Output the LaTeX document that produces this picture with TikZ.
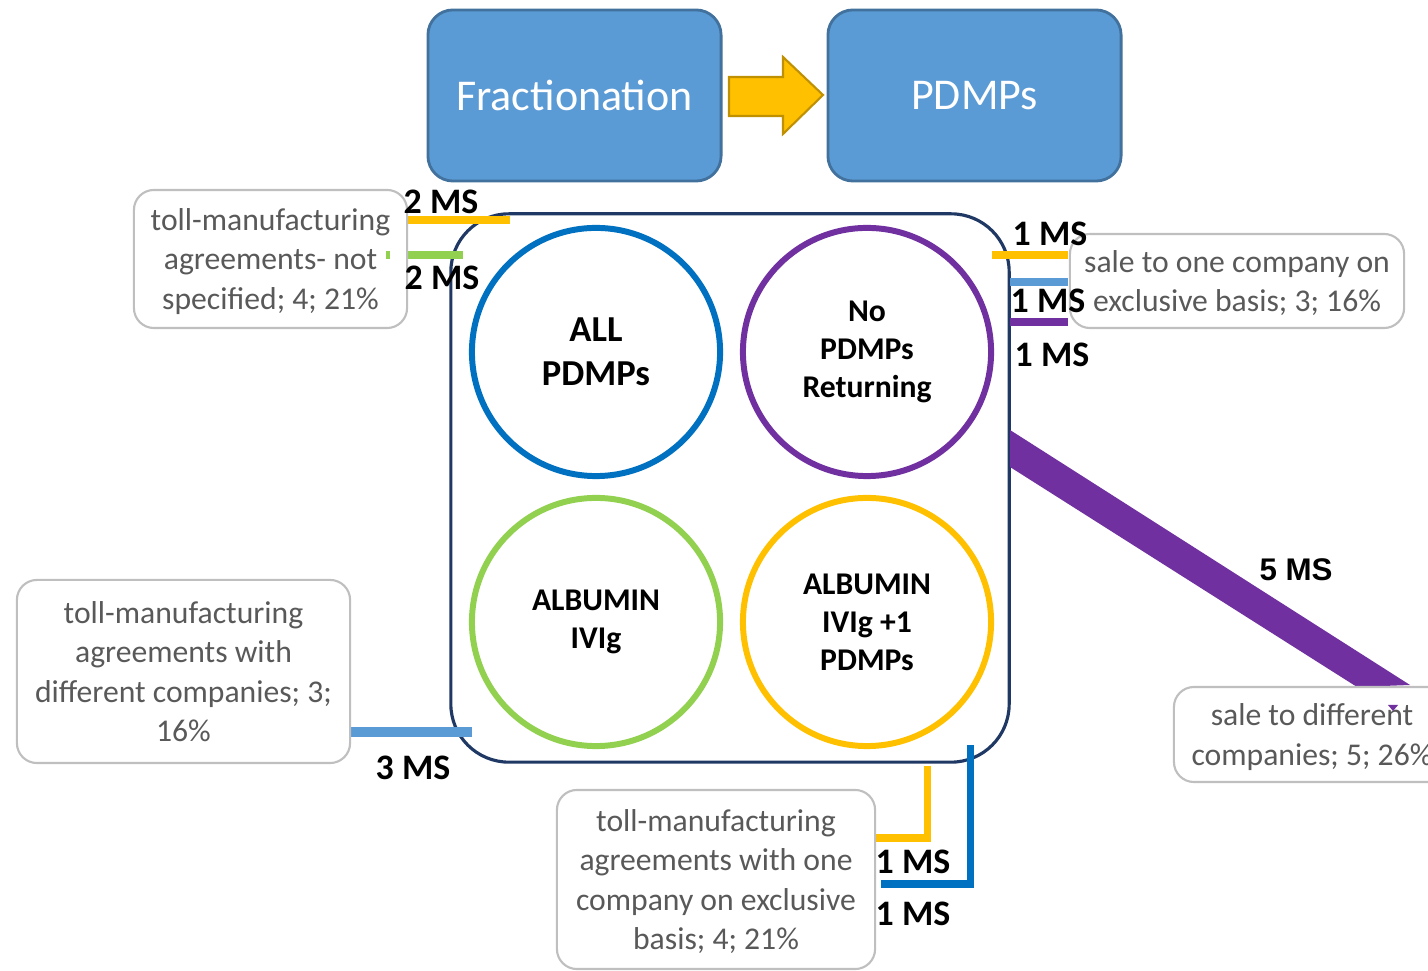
\documentclass[tikz,border=0pt]{standalone}
\usepackage{fontspec}
\setmainfont{Carlito}
\newfontfamily\arialfont{Liberation Sans}
\usepackage{tikz}
\usetikzlibrary{positioning,calc}
\usepackage{xcolor}

\definecolor{boxblue}{HTML}{5B9BD5}
\definecolor{boxedge}{HTML}{41719C}
\definecolor{arrowgold}{HTML}{FFC000}
\definecolor{arrowedge}{HTML}{BF9000}
\definecolor{navy}{HTML}{1F3864}
\definecolor{ringblue}{HTML}{0070C0}
\definecolor{ringpurple}{HTML}{7030A0}
\definecolor{ringgreen}{HTML}{92D050}
\definecolor{notegray}{HTML}{595959}
\definecolor{noteedge}{HTML}{BFBFBF}

\begin{document}
\begin{tikzpicture}[x=0.01cm,y=-0.01cm,
    topbox/.style={rectangle,rounded corners=0.25cm,draw=boxedge,fill=boxblue,line width=0.8pt,minimum width=2.93cm,minimum height=1.71cm,text=white,font=\fontsize{12.5}{15}\selectfont},
    ring/.style={circle,line width=1.7pt,minimum size=2.48cm,align=center,font=\bfseries\fontsize{9}{10.8}\selectfont},
    note/.style={rectangle,rounded corners=0.2cm,draw=noteedge,fill=white,line width=0.6pt,align=center,text=notegray,font=\fontsize{9}{11.1}\selectfont,text depth=0pt},
    ms/.style={font=\bfseries\fontsize{10.2}{12}\selectfont,inner sep=0pt},
    flow/.style={line width=2pt}]

\useasboundingbox (0,0) rectangle (1428,971);

% top row
\node[topbox] (frac) at (574.5,95.5) {Fractionation};
\node[topbox] (pdmp) at (974.5,95.5) {PDMPs};
\filldraw[fill=arrowgold,draw=arrowedge,line width=0.6pt]
  (729,77) -- (783,77) -- (783,57) -- (823,95) -- (783,134) -- (783,116) -- (729,116) -- cycle;

% central panel with the four product rings
\node[rectangle,rounded corners=0.58cm,draw=navy,line width=0.9pt,minimum width=5.58cm,minimum height=5.48cm] (panel) at (730,488) {};
\node[ring,draw=ringblue,font=\bfseries\fontsize{10.4}{12.5}\selectfont] (allp) at (596,352) {ALL\\PDMPs};
\node[ring,draw=ringpurple] (nop) at (867,352) {No\\PDMPs\\Returning};
\node[ring,draw=ringgreen] (albiv) at (596,622) {ALBUMIN\\IVIg};
\node[ring,draw=arrowgold] (albplus) at (867,622) {ALBUMIN\\IVIg +1\\PDMPs};

% flows
\draw[flow,arrowgold,line width=2.3pt] (405,220) coordinate (ylA) -- (510,220) coordinate (ylB);
\draw[flow,ringgreen,line width=2.3pt] (403,255) coordinate (grA) -- (463,255) coordinate (grB);
\draw[flow,arrowgold] (992,255) coordinate (yrA) -- (1068,255) coordinate (yrB);
\draw[flow,boxblue] (1010,282) coordinate (brA) -- (1068,282) coordinate (brB);
\draw[flow,ringpurple] (1010,322) coordinate (prA) -- (1068,322) coordinate (prB);
\draw[flow,boxblue,line width=3pt] (350,732) coordinate (blA) -- (472,732) coordinate (blB);
\draw[flow,arrowgold] (927,766) coordinate (ybA) -- (927,838) -- (876,838) coordinate (ybB);
\draw[flow,ringblue] (970,745) coordinate (bbA) -- (970,884) -- (881,884) coordinate (bbB);
\fill[ringpurple] (1010,430) -- (1410,685) -- (1357,687) -- (1010,467) -- cycle;

% outcome notes
\node[note,minimum width=2.73cm,minimum height=1.38cm] (tollns) at (270.5,259) {toll-manufacturing\\agreements- not\\specified; 4; 21\%};
\node[note,minimum width=3.34cm,minimum height=0.94cm] (saleone) at (1237,281) {sale to one company on\\exclusive basis; 3; 16\%};
\node[note,minimum width=2.76cm,minimum height=0.95cm] (saledif) at (1312,734.5) {sale to different\\companies; 5; 26\%};
\node[note,minimum width=3.33cm,minimum height=1.83cm] (tolldif) at (183.5,671.5) {toll-manufacturing\\agreements with\\different companies; 3;\\16\%};
\node[note,minimum width=3.18cm,minimum height=1.79cm] (tollone) at (716,879.5) {toll-manufacturing\\agreements with one\\company on exclusive\\basis; 4; 21\%};
\draw[ringgreen,line width=1.2pt] (388,251) coordinate (tkA) -- (388,259) coordinate (tkB);
\fill[ringpurple] (1388,705) -- (1398,705) -- (1393,711) -- cycle;

% counts
\node[ms] (msA) at (441,202) {2 MS};
\node[ms] (msB) at (442,278) {2 MS};
\node[ms] (msC) at (1050,234) {1 MS};
\node[ms] (msD) at (1048,301) {1 MS};
\node[ms] (msE) at (1052,355) {1 MS};
\node[ms] (msF) at (413,768) {3 MS};
\node[ms] (msG) at (913,862) {1 MS};
\node[ms] (msH) at (913,914) {1 MS};
\node[ms,font=\arialfont\bfseries\fontsize{8.9}{10}\selectfont] (msI) at (1296,570) {5 MS};

\end{tikzpicture}
\end{document}
